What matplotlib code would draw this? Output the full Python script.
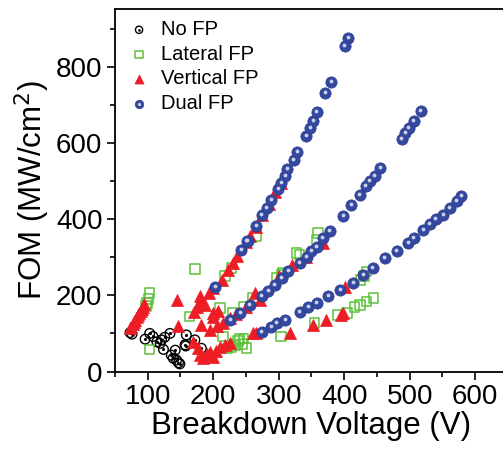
import matplotlib
matplotlib.use("Agg")
import matplotlib.pyplot as plt
import matplotlib.transforms as mtransforms
from matplotlib.ticker import MultipleLocator
from matplotlib.legend_handler import HandlerTuple

plt.rcParams['font.family'] = ['Liberation Sans', 'DejaVu Sans']

# values (breakdown voltage V, FOM MW/cm^2)
nofp_v = [73, 76, 96, 103, 108, 114, 119, 121, 126, 134, 124, 136, 142, 139,
          144, 147, 149, 159, 158, 157, 172, 182]
nofp_f = [102, 98, 85, 100, 92, 78, 74, 83, 90, 100, 58, 43, 56, 35,
          30, 23, 20, 96, 67, 70, 83, 61]

lat_v = [97, 99, 101, 103, 103, 172, 164, 210, 218, 228, 266,
         230, 246, 261, 297, 305, 307, 327, 332, 358, 360,
         215, 222, 228, 233, 238, 240, 245, 246, 251,
         304, 355, 391, 404, 416, 424, 434, 445, 425, 430, 434]
lat_f = [172, 180, 190, 206, 58, 269, 144, 166, 250, 272, 355,
         153, 170, 193, 245, 255, 258, 311, 307, 345, 364,
         92, 60, 65, 70, 80, 85, 72, 87, 61,
         92, 127, 149, 153, 169, 175, 184, 193, 240, 250, 262]

vert_v = [73, 75, 77, 79, 81, 83, 85, 87, 89, 91, 93, 95,
          144, 147,
          170, 175, 180, 182, 187, 193, 200, 200, 213, 223, 231, 236, 250, 256, 266, 275, 285, 295, 304,
          182, 195, 200, 206, 208, 215, 225, 235, 250, 264, 271, 300, 320, 342, 368,
          261, 266, 317, 353, 373, 395, 399, 401,
          169, 177, 180, 185, 190, 195, 200, 205, 210, 218, 226]
vert_f = [114, 118, 124, 130, 136, 142, 148, 153, 158, 164, 170, 176,
          188, 120,
          157, 170, 197, 184, 175, 206, 219, 154, 241, 267, 285, 302, 340, 355, 380, 410, 440, 470, 495,
          122, 109, 144, 120, 158, 127, 140, 150, 170, 206, 188, 250, 280, 300, 337,
          100, 100, 100, 122, 135, 148, 153, 223,
          78, 61, 43, 35, 45, 52, 39, 55, 65, 70, 75]

dual_a_v = [203, 243, 251, 253, 266, 274, 282, 289, 299, 304, 310, 313, 323, 328,
            342, 348, 353, 358, 371, 380, 401, 406]
dual_a_f = [223, 320, 342, 342, 381, 412, 429, 451, 478, 495, 513, 532, 556, 576,
            618, 640, 657, 681, 732, 760, 855, 874]
dual_b_v = [226, 241, 256, 274, 284, 294, 305, 315, 332, 343, 350, 358, 367, 378,
            399, 411, 424, 433, 439, 447, 455, 488, 493, 499, 506, 517]
dual_b_f = [135, 153, 175, 197, 210, 228, 245, 263, 285, 300, 315, 328, 350, 370,
            407, 438, 464, 486, 500, 513, 535, 609, 627, 640, 657, 684]
dual_c_v = [274, 289, 297, 310, 332, 345, 358, 376, 394, 414, 429, 444, 462, 480,
            498, 506, 521, 531, 540, 551, 561, 572, 579]
dual_c_f = [105, 118, 127, 135, 157, 169, 179, 197, 214, 232, 254, 271, 298, 315,
            337, 350, 372, 386, 399, 412, 429, 447, 460]

dual_v = dual_a_v + dual_b_v + dual_c_v
dual_f = dual_a_f + dual_b_f + dual_c_f

fig = plt.figure(figsize=(5.03, 4.5), dpi=100)
ax = fig.add_axes([0.2286, 0.1744, 0.781, 0.8045])

h1 = ax.scatter(nofp_v, nofp_f, s=48, marker='o', facecolors='none',
                edgecolors='black', linewidths=1.0, zorder=2)
h1d = ax.scatter(nofp_v, nofp_f, s=1.5, marker='o', color='black', zorder=2)
h2 = ax.scatter(lat_v, lat_f, s=48, marker='s', facecolors='none',
                edgecolors='#5cc13a', linewidths=1.1, zorder=3)
h3 = ax.scatter(vert_v, vert_f, s=75, marker='^', color='#ee1c25',
                edgecolors='#ee1c25', linewidths=0.5, zorder=4)
h4 = ax.scatter(dual_v, dual_f, s=66, marker='o', color='#3448a0',
                edgecolors='#2e3f8f', linewidths=0.5, zorder=5)
# small light spot to mimic the shaded sphere markers
shine = mtransforms.offset_copy(ax.transData, fig=fig, x=-0.5, y=1, units='dots')
h4s = ax.scatter(dual_v, dual_f, s=3, marker='o', color='#c9d0ec',
                 transform=shine, zorder=6)

ax.set_xlim(50, 650)
ax.set_ylim(0, 950)
ax.xaxis.set_major_locator(MultipleLocator(100))
ax.xaxis.set_minor_locator(MultipleLocator(50))
ax.yaxis.set_major_locator(MultipleLocator(200))
ax.yaxis.set_minor_locator(MultipleLocator(100))
ax.set_xticks([100, 200, 300, 400, 500, 600])
ax.tick_params(which='major', direction='out', length=6, width=1.2, labelsize=20, pad=3)
ax.tick_params(which='minor', direction='out', length=3.5, width=1.2)
for sp in ax.spines.values():
    sp.set_linewidth(1.3)

ax.set_xlabel('Breakdown Voltage (V)', fontsize=22.5, labelpad=1)
ax.set_ylabel('FOM (MW/cm$^2$)', fontsize=22.5, labelpad=3)

ax.legend([(h1, h1d), h2, h3, (h4, h4s)],
          ['No FP', 'Lateral FP', 'Vertical FP', 'Dual FP'],
          handler_map={tuple: HandlerTuple(ndivide=1)},
          loc='upper left', bbox_to_anchor=(0.01, 0.993), frameon=False,
          fontsize=14.5, handletextpad=0.5, labelspacing=0.28,
          handlelength=1.2, markerscale=0.75, borderaxespad=0.0)

fig.savefig('out.png', dpi=100)
